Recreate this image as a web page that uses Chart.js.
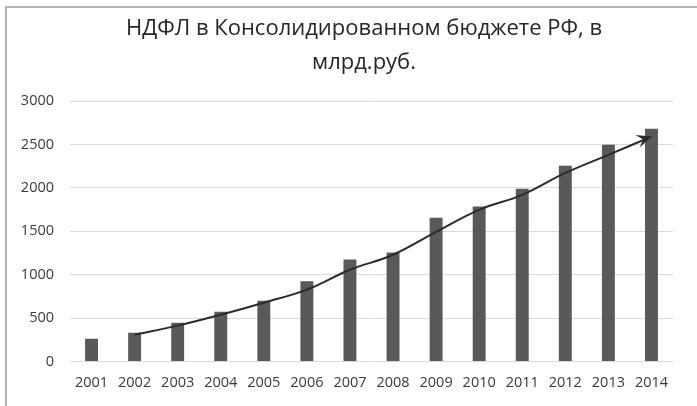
<!DOCTYPE html>
<html>
<head>
<meta charset="utf-8">
<script src="https://cdn.jsdelivr.net/npm/chart.js@4.4.1/dist/chart.umd.min.js"></script>
<style>
  html, body { margin: 0; padding: 0; background: #fff; }
  #wrap { width: 697px; height: 406px; }
</style>
</head>
<body>
<div id="wrap"><canvas id="ndfl"></canvas></div>
<script>
// годы и поступления НДФЛ, млрд руб.
var years = ['2001', '2002', '2003', '2004', '2005', '2006', '2007',
             '2008', '2009', '2010', '2011', '2012', '2013', '2014'];
var ndfl = [262, 332, 448, 575, 700, 925, 1175, 1255, 1655, 1785, 1990, 2255, 2495, 2680];
// линия тренда (со стрелкой), начинается с 2002
var trend = [null, 310, 414, 540, 678, 828, 1057, 1230, 1494, 1747, 1920, 2172, 2380, 2590];
var titleLines = ['НДФЛ в Консолидированном бюджете РФ, в', 'млрд.руб.'];

// рамка слева и сверху, как на скриншоте
var frame = {
  id: 'frame',
  beforeDraw: function (chart) {
    var c = chart.ctx;
    c.save();
    c.strokeStyle = '#9a9a9a';
    c.lineWidth = 1.5;
    c.beginPath();
    c.moveTo(6, chart.height);
    c.lineTo(6, 7);
    c.lineTo(chart.width, 7);
    c.stroke();
    c.restore();
  }
};

// заголовок чуть правее центра, как в оригинале
var heading = {
  id: 'heading',
  afterDraw: function (chart) {
    var c = chart.ctx;
    c.save();
    c.fillStyle = '#262626';
    c.font = '22px "Open Sans"';
    c.textAlign = 'center';
    c.textBaseline = 'middle';
    c.fillText(titleLines[0], 364, 29);
    c.fillText(titleLines[1], 364, 63);
    c.restore();
  }
};

var arrowHead = {
  id: 'arrowHead',
  afterDatasetsDraw: function (chart) {
    var pts = chart.getDatasetMeta(1).data;
    var a = pts[pts.length - 2], b = pts[pts.length - 1];
    var ang = Math.atan2(b.y - a.y, b.x - a.x) + 0.08;
    var len = 16, w = 0.42;
    var c = chart.ctx;
    c.save();
    c.fillStyle = '#2b2b2b';
    c.beginPath();
    c.moveTo(b.x, b.y);
    c.lineTo(b.x - len * Math.cos(ang - w), b.y - len * Math.sin(ang - w));
    c.lineTo(b.x - len * 0.55 * Math.cos(ang), b.y - len * 0.55 * Math.sin(ang));
    c.lineTo(b.x - len * Math.cos(ang + w), b.y - len * Math.sin(ang + w));
    c.closePath();
    c.fill();
    c.restore();
  }
};

new Chart(document.getElementById('ndfl'), {
  data: {
    labels: years,
    datasets: [{
      type: 'bar',
      data: ndfl,
      backgroundColor: '#595959',
      barPercentage: 0.3,
      categoryPercentage: 1,
      order: 2
    }, {
      type: 'line',
      data: trend,
      borderColor: '#2b2b2b',
      borderWidth: 2,
      tension: 0.4,
      pointRadius: 0,
      fill: false,
      order: 1
    }]
  },
  options: {
    responsive: true,
    maintainAspectRatio: false,
    animation: false,
    layout: { padding: { left: 12, right: 24, top: 101, bottom: 9 } },
    plugins: {
      legend: { display: false },
      tooltip: { enabled: false },
      title: { display: false }
    },
    scales: {
      x: {
        grid: { display: false },
        border: { display: false },
        ticks: { color: '#3a3a3a', font: { family: 'Open Sans', size: 14.5 }, maxRotation: 0, padding: 5 }
      },
      y: {
        min: 0,
        max: 3000,
        grid: { color: '#d9d9d9', drawTicks: false },
        border: { display: false },
        afterFit: function (s) { s.width = 58; },
        ticks: {
          stepSize: 500,
          color: '#3a3a3a',
          font: { family: 'Open Sans', size: 14.5 },
          padding: 16,
          callback: function (v) { return String(v); }
        }
      }
    }
  },
  plugins: [frame, heading, arrowHead]
});
</script>
</body>
</html>
